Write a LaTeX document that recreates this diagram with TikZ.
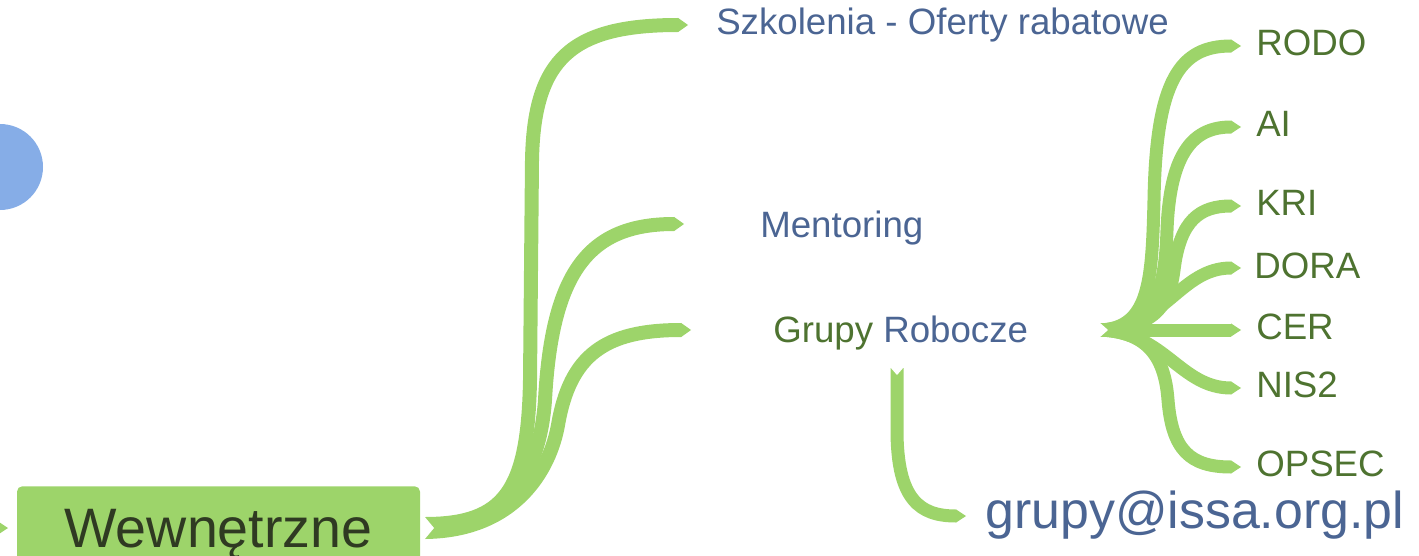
\documentclass[tikz,border=0pt]{standalone}
\usepackage{fontspec}
\setmainfont{Liberation Sans}
\usetikzlibrary{arrows.meta}
\definecolor{rib}{HTML}{9DD46A}
\definecolor{gtext}{HTML}{4E7330}
\definecolor{btext}{HTML}{4B6593}
\definecolor{wtext}{HTML}{2F3A22}
\definecolor{circ}{HTML}{86ADE7}
\begin{document}
\begin{tikzpicture}[x=0.75pt,y=-0.75pt,
  ribbon/.style={draw=rib, line width=9.75pt, line cap=butt,
    -{Triangle[length=7.5pt,width=9.9pt,line width=0pt]}},
  wideribbon/.style={draw=rib, line width=10.5pt, line cap=butt,
    -{Triangle[length=7.5pt,width=10.7pt,line width=0pt]}},
  notch/.style={fill=white},
  lbl/.style={anchor=base west, inner sep=0pt, font=\fontsize{27.5}{33}\selectfont},
]
\useasboundingbox (0,0) rectangle (1419,556);
\clip (0,0) rectangle (1419,556);

% blue circle
\fill[circ] (0,167) circle[radius=43];

% labels
\node[lbl, text=btext] (szk) at (716,35) {Szkolenia - Oferty rabatowe};
\node[lbl, text=btext] (ment) at (760,237) {Mentoring};
\node[lbl] (grp) at (773,342) {\textcolor{gtext}{Grupy} \textcolor{btext}{Robocze}};
\node[lbl, text=gtext] (rodo) at (1256,56) {RODO};
\node[lbl, text=gtext] (ai) at (1256,137) {AI};
\node[lbl, text=gtext] (kri) at (1256,215) {KRI};
\node[lbl, text=gtext] (dora) at (1254,278) {DORA};
\node[lbl, text=gtext] (cer) at (1256,339) {CER};
\node[lbl, text=gtext] (nis) at (1256,397) {NIS2};
\node[lbl, text=gtext] (opsec) at (1256,476) {OPSEC};
\node[anchor=base west, inner sep=0pt, font=\fontsize{38.9}{46}\selectfont, text=btext] (mail) at (985,528) {grupy@issa.org.pl};

% Wewnetrzne box
\node[anchor=north, fill=rib, rounded corners=4pt, minimum width=302.25pt,
      inner xsep=0pt, inner ysep=5pt, text height=40.75pt, text depth=40pt,
      font=\fontsize{41.7}{50}\selectfont, text=wtext] (wew) at (218.5,486) {Wewnętrzne};

% coordinates
\coordinate (w1) at (425,524);
\coordinate (w2) at (425,528);
\coordinate (w3) at (425,532);
\coordinate (szkIn) at (688,25);
\coordinate (mentIn) at (684,224);
\coordinate (grpIn) at (691,330);
\coordinate (gOut) at (1100,330);
\coordinate (rodoIn) at (1241,46);
\coordinate (aiIn) at (1241,127);
\coordinate (kriIn) at (1241,206);
\coordinate (doraIn) at (1241,268);
\coordinate (cerIn) at (1241,330);
\coordinate (nisIn) at (1241,388);
\coordinate (opsecIn) at (1241,467);
\coordinate (dOut) at (897,368);
\coordinate (mailIn) at (966,516);
\coordinate (leftOut) at (-40,528);
\coordinate (leftIn) at (8,528);

% ribbons from Wewnetrzne
\draw[wideribbon] (w1) .. controls (505,524) and (528,490) .. (530,380)
   -- (532,160) .. controls (534,60) and (570,25) .. (szkIn);
\draw[wideribbon] (w2) .. controls (510,527) and (540,470) .. (545,400)
   .. controls (552,270) and (590,224) .. (mentIn);
\draw[wideribbon] (w3) .. controls (515,531) and (550,470) .. (558,425)
   .. controls (570,355) and (605,330) .. (grpIn);
\fill[notch] (424,516) -- (434,528) -- (424,540) -- cycle;

% ribbons from Grupy Robocze
\draw[ribbon] (gOut) .. controls (1150,328) and (1152,280) .. (1154,200)
   .. controls (1156,80) and (1180,46) .. (rodoIn);
\draw[ribbon] (gOut) .. controls (1155,328) and (1165,290) .. (1167,230)
   .. controls (1170,150) and (1195,127) .. (aiIn);
\draw[ribbon] (gOut) .. controls (1160,328) and (1170,300) .. (1174,270)
   .. controls (1180,220) and (1200,206) .. (kriIn);
\draw[ribbon] (gOut) .. controls (1165,328) and (1180,268) .. (doraIn);
\draw[ribbon] (gOut) -- (cerIn);
\draw[ribbon] (gOut) .. controls (1165,332) and (1180,388) .. (nisIn);
\draw[ribbon] (gOut) .. controls (1150,332) and (1165,360) .. (1168,400)
   .. controls (1172,450) and (1190,467) .. (opsecIn);
\fill[notch] (1099,322) -- (1108,330) -- (1099,338) -- cycle;

% downward ribbon
\draw[ribbon] (dOut) -- (897,430) .. controls (897,500) and (920,516) .. (mailIn);
\fill[notch] (890,367) -- (897,375) -- (904,367) -- cycle;

% left edge tip
\draw[ribbon] (leftOut) -- (leftIn);
\end{tikzpicture}
\end{document}
